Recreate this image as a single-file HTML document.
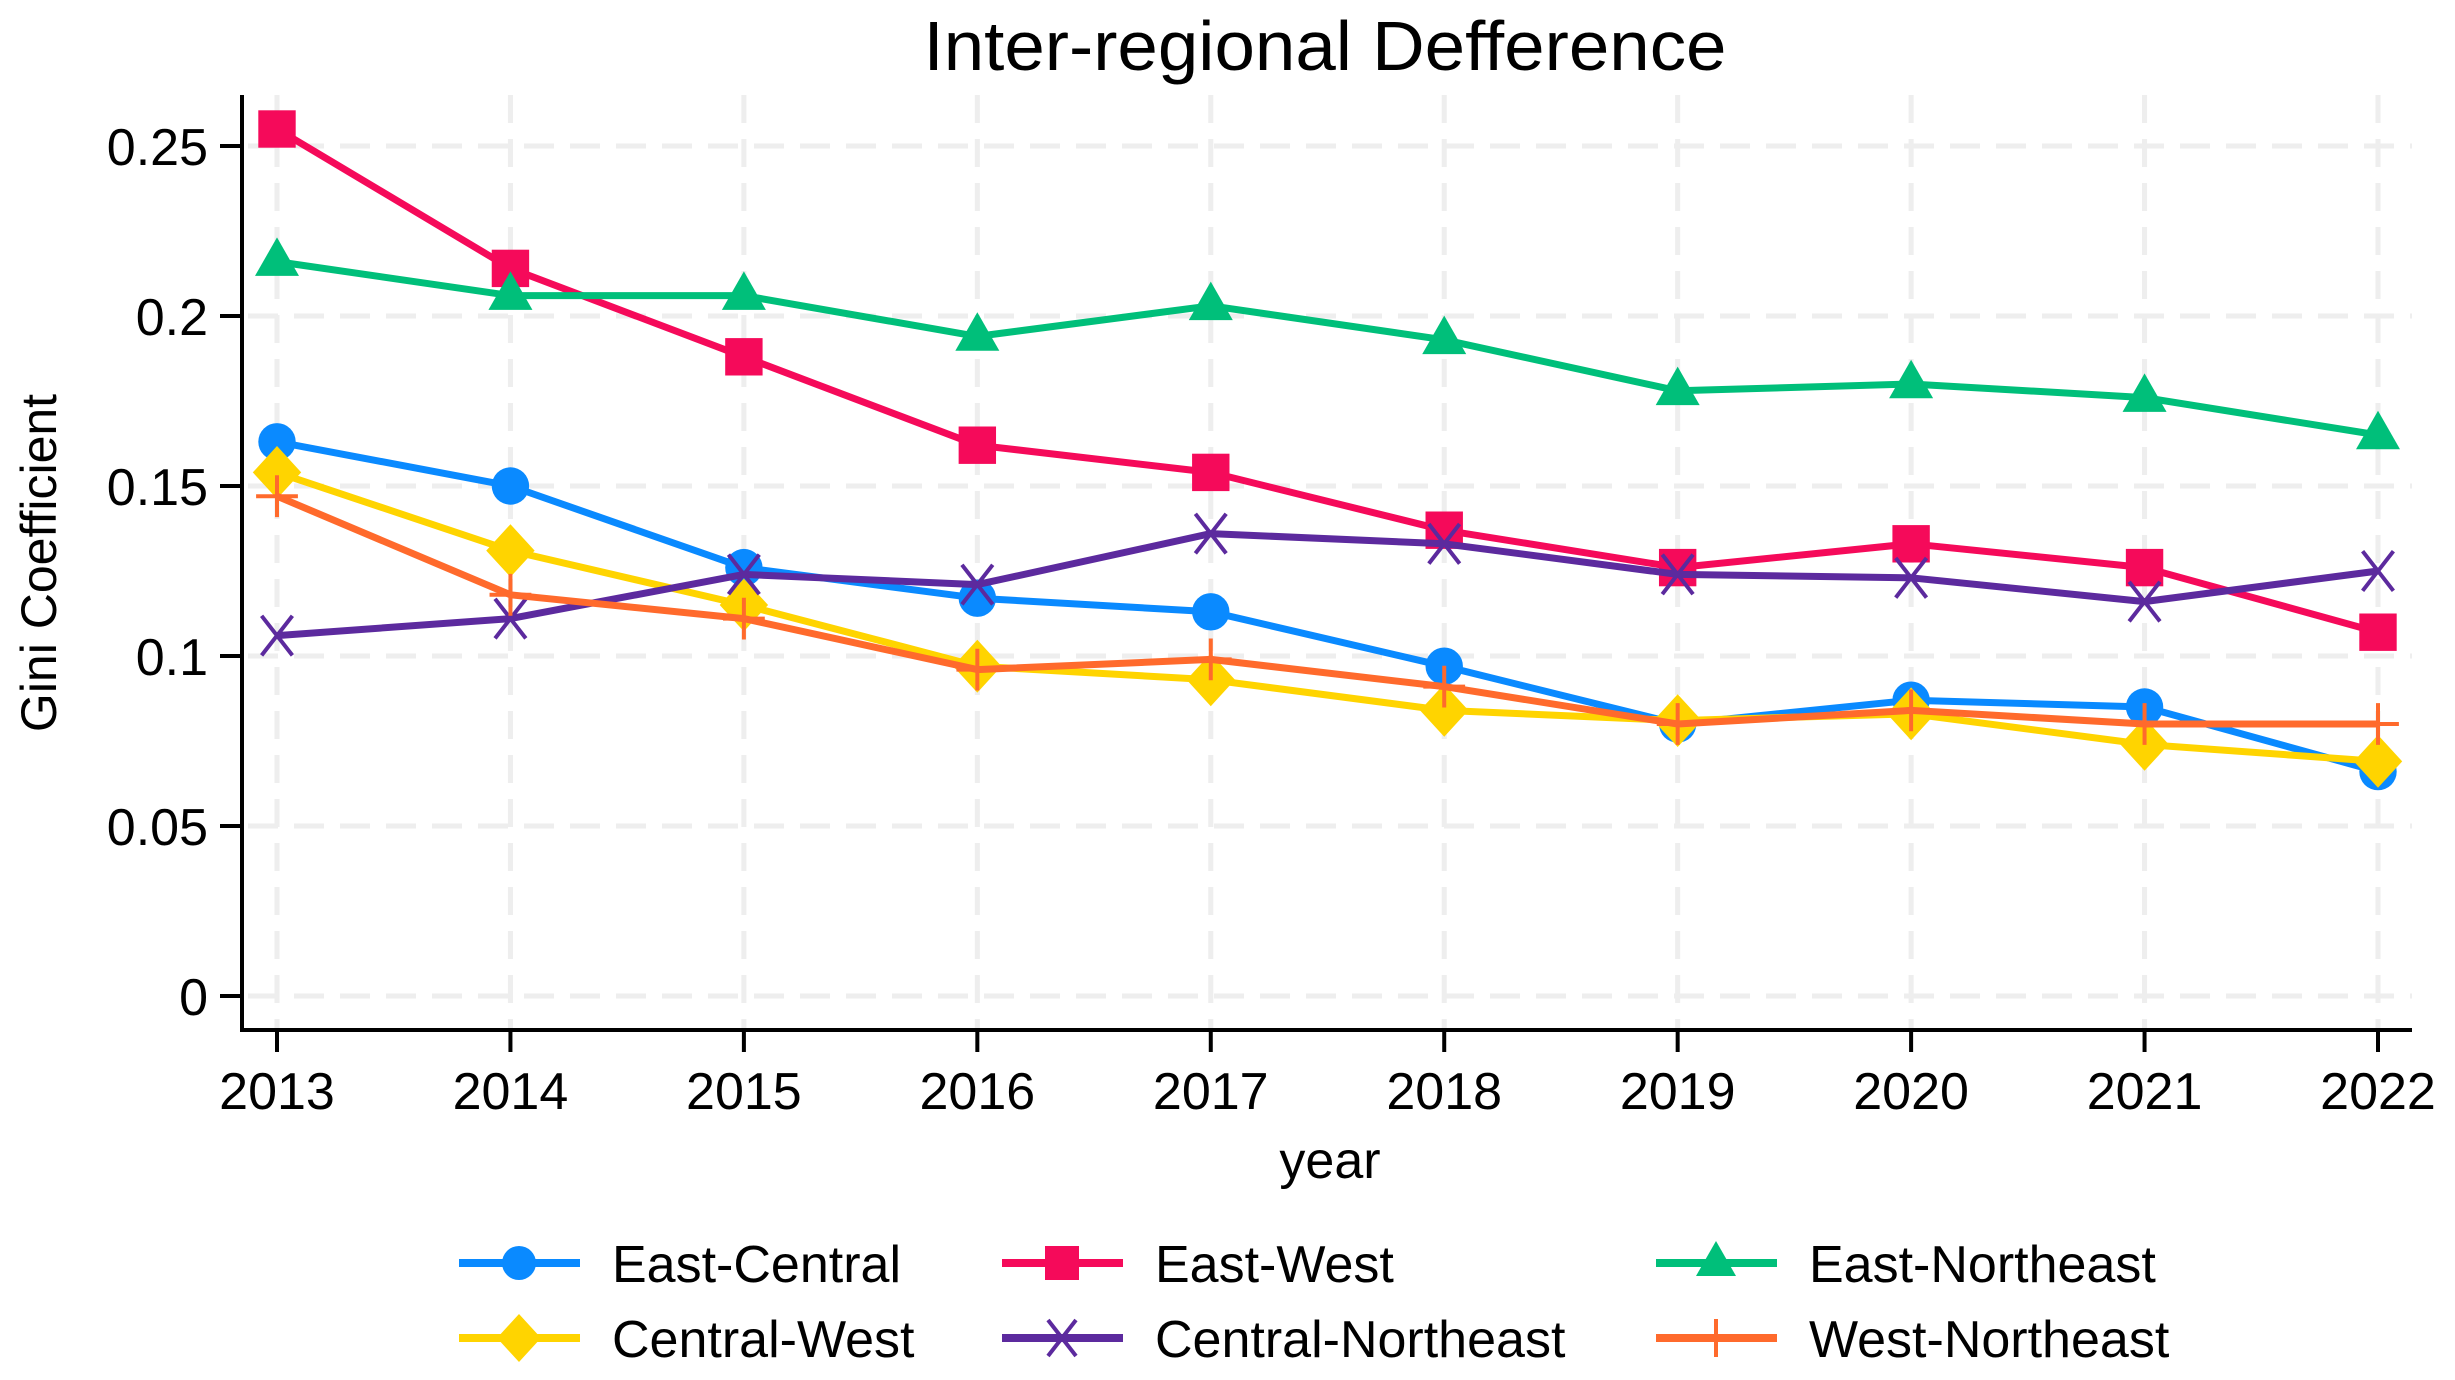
<!DOCTYPE html>
<html><head><meta charset="utf-8"><style>
html,body{margin:0;padding:0;background:#fff;}
svg{display:block;font-family:"Liberation Sans",Arial,sans-serif;}
</style></head><body>
<svg id="chart" width="2455" height="1380" viewBox="0 0 2455 1380" xmlns="http://www.w3.org/2000/svg">
<rect width="2455" height="1380" fill="#fff"/>
<text x="1325" y="70" font-size="70" text-anchor="middle" textLength="803" lengthAdjust="spacingAndGlyphs">Inter-regional Defference</text>
<g id="grid"></g>
<g id="axes"></g>
<g id="series"></g>
<g id="legend"></g>
<text x="1330" y="1178" font-size="52" text-anchor="middle">year</text>
<text transform="translate(56,563) rotate(-90)" font-size="50" text-anchor="middle">Gini Coefficient</text>
</svg>
<script>
const years = [2013,2014,2015,2016,2017,2018,2019,2020,2021,2022];
const yTicks = [0,0.05,0.1,0.15,0.2,0.25];
const yTickLabels = ["0","0.05","0.1","0.15","0.2","0.25"];
const eastCentral = [0.163,0.150,0.126,0.117,0.113,0.097,0.080,0.087,0.085,0.066];
const eastWest = [0.255,0.214,0.188,0.162,0.154,0.137,0.126,0.133,0.126,0.107];
const eastNortheast = [0.216,0.206,0.206,0.194,0.203,0.193,0.178,0.180,0.176,0.165];
const centralWest = [0.154,0.131,0.115,0.097,0.093,0.084,0.081,0.083,0.074,0.069];
const centralNortheast = [0.106,0.111,0.124,0.121,0.136,0.133,0.124,0.123,0.116,0.125];
const westNortheast = [0.147,0.118,0.111,0.096,0.099,0.091,0.080,0.084,0.080,0.080];

const NS="http://www.w3.org/2000/svg";
const X0=277, X1=2378, Y0=996, Y25=146;
const xs = y => X0 + (y-years[0])*(X1-X0)/(years[years.length-1]-years[0]);
const ys = v => Y0 - v*(Y0-Y25)/0.25;
function mk(tag, attrs, parent){const e=document.createElementNS(NS,tag);for(const k in attrs)e.setAttribute(k,attrs[k]);parent.appendChild(e);return e;}
const grid=document.getElementById('grid'), axes=document.getElementById('axes'), ser=document.getElementById('series'), leg=document.getElementById('legend');

yTicks.forEach((t,i)=>{
  const g=mk('line',{x1:248,x2:2412,y1:ys(t),y2:ys(t),stroke:'#eeeeee','stroke-width':5,'stroke-dasharray':'30 16'},grid);
  
  
  const tk=mk('line',{x1:220,x2:242,y1:ys(t),y2:ys(t),stroke:'#000','stroke-width':4},axes);
  
  
  const tx=mk('text',{x:208,y:ys(t)+19,'font-size':52,'text-anchor':'end'},axes);
  tx.textContent=yTickLabels[i];
  
  
});
years.forEach(yr=>{
  const g=mk('line',{x1:xs(yr),x2:xs(yr),y1:95,y2:1028,stroke:'#eeeeee','stroke-width':5,'stroke-dasharray':'28 16'},grid);
  
  
  const tk=mk('line',{x1:xs(yr),x2:xs(yr),y1:1030,y2:1052,stroke:'#000','stroke-width':4},axes);
  
  
  const tx=mk('text',{x:xs(yr),y:1109,'font-size':52,'text-anchor':'middle'},axes);
  tx.textContent=yr;
  
  
});
const ya=mk('line',{x1:242,x2:242,y1:95,y2:1032,stroke:'#000','stroke-width':4},axes);


const xa=mk('line',{x1:240,x2:2412,y1:1030,y2:1030,stroke:'#000','stroke-width':4},axes);



function marker(type,x,y,color,parent,s){
  s=s||1;
  if(type==='circle') return mk('circle',{cx:x,cy:y,r:17*s,fill:color},parent);
  if(type==='square') return mk('rect',{x:x-17*s,y:y-17*s,width:34*s,height:34*s,fill:color},parent);
  if(type==='triangle') return mk('polygon',{points:`${x},${y-22*s} ${x+20*s},${y+13*s} ${x-20*s},${y+13*s}`,fill:color},parent);
  if(type==='diamond') return mk('polygon',{points:`${x},${y-24*s} ${x+22*s},${y} ${x},${y+24*s} ${x-22*s},${y}`,fill:color},parent);
  if(type==='x') return mk('path',{d:`M${x-14*s},${y-18*s}L${x+14*s},${y+18*s}M${x+14*s},${y-18*s}L${x-14*s},${y+18*s}`,stroke:color,'stroke-width':4,fill:'none'},parent);
  if(type==='plus') return mk('path',{d:`M${x},${y-19*s}L${x},${y+19*s}M${x-19*s},${y}L${x+19*s},${y}`,stroke:color,'stroke-width':4,fill:'none'},parent);
}
const seriesList=[
  {name:'East-Central',key:'east-central',vals:eastCentral,color:'#0a8aff',m:'circle',lx:459,ly:1263},
  {name:'East-West',key:'east-west',vals:eastWest,color:'#f50a5a',m:'square',lx:1002,ly:1263},
  {name:'East-Northeast',key:'east-northeast',vals:eastNortheast,color:'#00bf7a',m:'triangle',lx:1656,ly:1263},
  {name:'Central-West',key:'central-west',vals:centralWest,color:'#ffd400',m:'diamond',lx:459,ly:1338},
  {name:'Central-Northeast',key:'central-northeast',vals:centralNortheast,color:'#5c2a9e',m:'x',lx:1002,ly:1338},
  {name:'West-Northeast',key:'west-northeast',vals:westNortheast,color:'#ff6a2c',m:'plus',lx:1656,ly:1338}
];
seriesList.forEach(s=>{
  const g=mk('g',{},ser);
  
  
  const pl=mk('polyline',{points:s.vals.map((v,i)=>xs(years[i])+','+ys(v)).join(' '),fill:'none',stroke:s.color,'stroke-width':7,'stroke-linejoin':'round'},g);
  
  
  s.vals.forEach((v,i)=>{
    const m=marker(s.m,xs(years[i]),ys(v),s.color,g,1.1);
    
    
  });
  const lg=mk('g',{},leg);
  
  
  mk('line',{x1:s.lx,x2:s.lx+121,y1:s.ly,y2:s.ly,stroke:s.color,'stroke-width':8},lg);
  marker(s.m,s.lx+60,s.ly,s.color,lg);
  const t=mk('text',{x:s.lx+153,y:s.ly+19,'font-size':52},lg);
  t.textContent=s.name;
});
</script>
</body></html>
